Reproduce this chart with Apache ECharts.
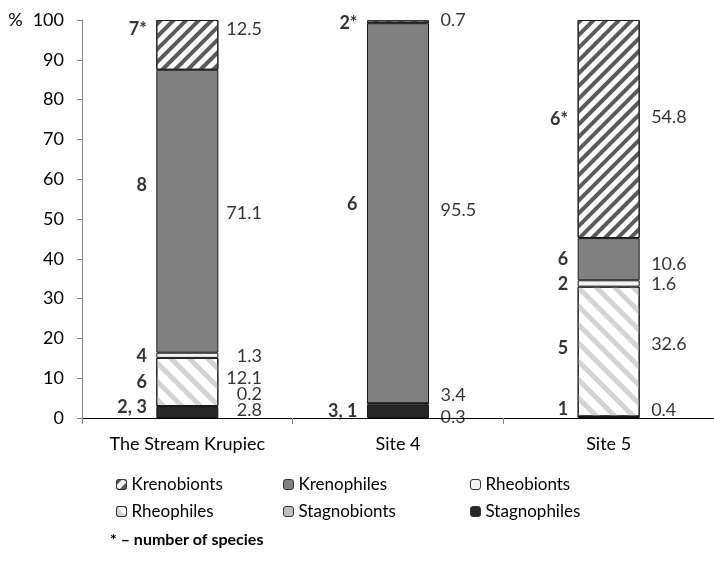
<!DOCTYPE html>
<html>
<head>
<meta charset="utf-8">
<script src="https://cdn.jsdelivr.net/npm/echarts@6/dist/echarts.min.js"></script>
<style>
  html, body { margin: 0; padding: 0; background: #fff; }
  #chart { width: 714px; height: 566px; }
</style>
</head>
<body>
<div id="chart"></div>
<script>
// sites on the x axis
const categories = ['The Stream Krupiec', 'Site 4', 'Site 5']

// share of each ecological group, % (stacked bottom -> top)
const stagnophiles = [2.8, 3.4, 0.4]
const stagnobionts = [0.2, 0.3, 0]
const rheophiles = [12.1, 0, 32.6]
const rheobionts = [1.3, 0, 1.6]
const krenophiles = [71.1, 95.5, 10.6]
const krenobionts = [12.5, 0.7, 54.8]

// where the % value labels sit (value units), null = no label
const stagnophilesLabelAt = [1.8, 5.6, 1.8]
const stagnobiontsLabelAt = [5.8, 0.1, null]
const rheophilesLabelAt = [10.0, null, 18.3]
const rheobiontsLabelAt = [15.4, null, 33.4]
const krenophilesLabelAt = [51.4, 52.1, 38.6]
const krenobiontsLabelAt = [97.5, 99.8, 75.5]

// number of species, written left of each bar
const speciesText = [
  ['2, 3', '6', '4', '8', '7*'],
  ['3, 1', '6', '2*'],
  ['1', '5', '2', '6', '6*']
]
const speciesAt = [
  [2.5, 8.8, 15.4, 58.3, 97.5],
  [1.6, 53.5, 99.1],
  [2.0, 17.5, 33.6, 39.9, 74.9]
]

const yTicks = [0, 100, 10] // min, max, interval

const FONT = 'Lato'
const chart = echarts.init(document.getElementById('chart'))

const groups = [
  { name: 'Stagnophiles', data: stagnophiles, at: stagnophilesLabelAt, color: '#262626' },
  { name: 'Stagnobionts', data: stagnobionts, at: stagnobiontsLabelAt, color: '#bfbfbf' },
  { name: 'Rheophiles', data: rheophiles, at: rheophilesLabelAt, color: '#ffffff',
    decal: { symbol: 'rect', symbolSize: 1, dashArrayX: [1, 0], dashArrayY: [5, 8], rotation: Math.PI / 4, color: '#d4d4d4' } },
  { name: 'Rheobionts', data: rheobionts, at: rheobiontsLabelAt, color: '#f2f2f2' },
  { name: 'Krenophiles', data: krenophiles, at: krenophilesLabelAt, color: '#808080' },
  { name: 'Krenobionts', data: krenobionts, at: krenobiontsLabelAt, color: '#ffffff',
    decal: { symbol: 'rect', symbolSize: 1, dashArrayX: [1, 0], dashArrayY: [4, 5], rotation: -Math.PI / 4, color: '#5a5a5a' } }
]

const barSeries = groups.map(g => ({
  name: g.name,
  type: 'bar',
  stack: 'all',
  barWidth: 62,
  data: g.data,
  silent: true,
  itemStyle: {
    color: g.color,
    borderColor: '#1a1a1a',
    borderWidth: 1,
    decal: g.decal || null
  }
}))

// % labels right of the bars
const pctData = []
groups.forEach(g => {
  g.data.forEach((v, ci) => {
    if (g.at[ci] == null) return
    const first = ci === 0
    pctData.push({
      value: [ci, g.at[ci], String(v)],
      label: first
        ? { position: [75, 0], align: 'right' }
        : { position: [43, 0], align: 'left' }
    })
  })
})

const speciesData = []
speciesText.forEach((list, ci) => {
  list.forEach((t, i) => speciesData.push({ value: [ci, speciesAt[ci][i], t] }))
})

const labelSeries = (data, bold, defaults) => ({
  type: 'scatter',
  data: data,
  symbolSize: 1,
  silent: true,
  z: 10,
  itemStyle: { color: 'rgba(0,0,0,0)' },
  label: Object.assign({
    show: true,
    formatter: p => p.value[2],
    verticalAlign: 'middle',
    fontFamily: FONT,
    fontSize: 18,
    fontWeight: bold ? 'bold' : 'normal',
    color: '#000'
  }, defaults)
})

const legendBase = {
  orient: 'vertical',
  padding: 0,
  itemWidth: 10,
  itemHeight: 10,
  itemGap: 10,
  itemStyle: { borderColor: '#333', borderWidth: 1 },
  textStyle: { fontFamily: FONT, fontSize: 17, color: '#000' },
  selectedMode: false,
  top: 476
}

const option = {
  animation: false,
  grid: { left: 82, right: -8, top: 20, bottom: 148 },
  xAxis: {
    type: 'category',
    data: categories,
    axisLine: { lineStyle: { color: '#000', width: 1 } },
    axisTick: { show: true, length: 6, lineStyle: { color: '#868686' } },
    axisLabel: { interval: 0, margin: 17, fontFamily: FONT, fontSize: 18, color: '#000' },
    splitLine: { show: false }
  },
  yAxis: {
    type: 'value',
    min: yTicks[0],
    max: yTicks[1],
    interval: yTicks[2],
    axisLine: { show: true, lineStyle: { color: '#868686' } },
    axisTick: { show: true, length: 5, lineStyle: { color: '#868686' } },
    axisLabel: {
      margin: 18,
      fontFamily: FONT,
      fontSize: 18,
      color: '#000',
      formatter: v => (v === 100 ? '{p|%}100' : String(v)),
      rich: {
        p: { fontFamily: FONT, fontSize: 18, color: '#000', padding: [0, 10, 0, 0] }
      }
    },
    splitLine: { show: false }
  },
  legend: [
    Object.assign({}, legendBase, { left: 116, data: ['Krenobionts', 'Rheophiles'] }),
    Object.assign({}, legendBase, { left: 283, data: ['Krenophiles', 'Stagnobionts'] }),
    Object.assign({}, legendBase, { left: 470, data: ['Rheobionts', 'Stagnophiles'] })
  ],
  graphic: [{
    type: 'text',
    left: 110,
    top: 532,
    style: { text: '* \u2013 number of species', fontFamily: FONT, fontSize: 16, fontWeight: 'bold', fill: '#000' }
  }],
  series: barSeries.concat([
    labelSeries(pctData, false, { position: [43, 0], align: 'left' }),
    labelSeries(speciesData, true, { position: [-40, 0], align: 'right' })
  ])
}

chart.setOption(option)
</script>
</body>
</html>
